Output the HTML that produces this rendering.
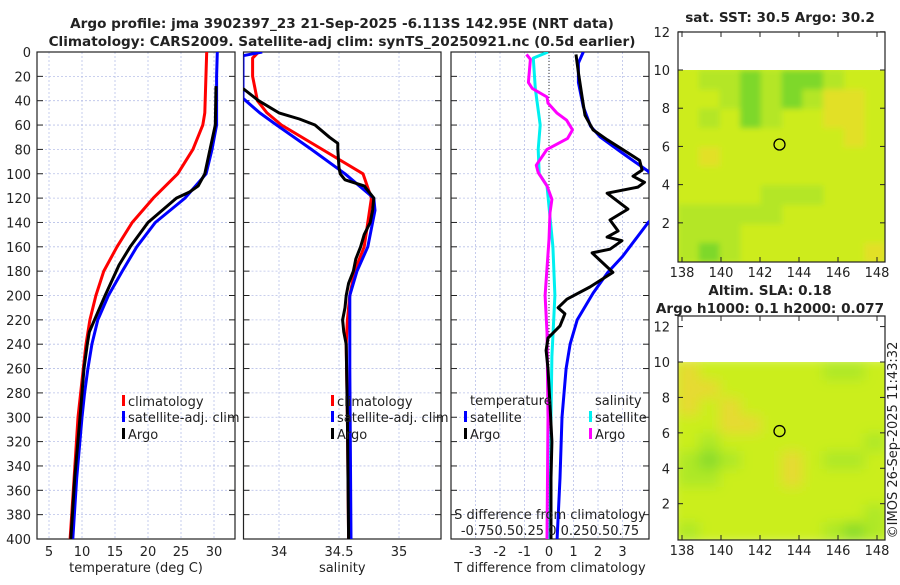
<!DOCTYPE html>
<html><head><meta charset="utf-8">
<style>
body{margin:0;background:#fff;}
svg text{font-family:"DejaVu Sans","Liberation Sans",sans-serif;fill:#222;}
</style></head>
<body>
<svg id="chart" width="900" height="580" xmlns="http://www.w3.org/2000/svg">
<g id="titles">
<text x="342" y="28" text-anchor="middle" font-size="13.6" font-weight="bold">Argo profile: jma 3902397_23 21-Sep-2025 -6.113S 142.95E (NRT data)</text>
<text x="342" y="46" text-anchor="middle" font-size="13.6" font-weight="bold">Climatology: CARS2009. Satellite-adj clim: synTS_20250921.nc (0.5d earlier)</text>
<text x="780" y="22" text-anchor="middle" font-size="13.6" font-weight="bold">sat. SST: 30.5 Argo: 30.2</text>
<text x="770" y="295" text-anchor="middle" font-size="13.6" font-weight="bold">Altim. SLA: 0.18</text>
<text x="770" y="313" text-anchor="middle" font-size="13.6" font-weight="bold">Argo h1000: 0.1 h2000: 0.077</text>
<text transform="translate(897,440) rotate(-90)" text-anchor="middle" font-size="13">©IMOS 26-Sep-2025 11:43:32</text>
</g>
</svg>
<script>
// ---- data ----
const depthTicks=[0,20,40,60,80,100,120,140,160,180,200,220,240,260,280,300,320,340,360,380,400];
const tTicks=[5,10,15,20,25,30];
const sTicks=[34,34.5,35];
const dTicks=[-3,-2,-1,0,1,2,3];
const tClimD=[0,50,60,80,100,120,140,160,180,200,220,240,260,300,350,400];
const tClimV=[28.9,28.6,28.3,26.8,24.5,20.8,17.6,15.3,13.3,12.1,11.2,10.6,10.2,9.4,8.8,8.2];
const tSatD=[0,20,60,80,100,120,140,160,180,200,220,240,260,280,300,350,400];
const tSatV=[30.5,30.4,30.4,29.7,28.8,25.6,21.1,18.3,16.1,14.0,12.4,11.5,10.9,10.4,10.0,9.2,8.6];
const tArgoD=[28,60,80,100,110,115,120,140,160,175,180,200,220,230,240,260,300,350,400];
const tArgoV=[30.3,30.2,29.4,28.6,27.6,26.3,24.3,20.0,17.3,15.6,15.2,13.5,11.9,11.1,10.8,10.3,9.7,8.9,8.3];
const sClimD=[0,5,20,40,50,60,80,100,120,140,160,180,200,220,240,300,400];
const sClimV=[33.83,33.78,33.78,33.82,33.9,34.02,34.36,34.70,34.77,34.74,34.71,34.63,34.59,34.57,34.56,34.57,34.58];
const sSatD=[0,3,38,50,60,80,100,120,130,140,160,180,200,220,260,400];
const sSatV=[33.86,33.70,33.70,33.84,33.98,34.27,34.55,34.79,34.80,34.78,34.74,34.65,34.59,34.59,34.59,34.60];
const sArgoD=[30,40,50,55,60,70,75,80,95,100,105,110,120,130,140,150,160,170,180,190,200,210,220,230,240,300,400];
const sArgoV=[33.70,33.83,34.0,34.17,34.30,34.42,34.49,34.49,34.50,34.51,34.55,34.71,34.79,34.78,34.76,34.71,34.68,34.64,34.62,34.58,34.56,34.55,34.53,34.54,34.56,34.57,34.58];
const dtSatD=[0,9,25,45,61,70,83,98,110,130,140,168,181,198,220,240,260,300,350,400];
const dtSatV=[1.4,1.2,1.2,1.4,1.7,2.1,3.0,4.05,4.6,4.6,4.05,3.0,2.4,1.8,1.15,0.86,0.7,0.53,0.45,0.33];
const dtArgoD=[2,17,37,52,64,72,80,89,97,102,107,111,116,129,138,147,152,155,162,165,181,193,203,210,215,225,235,245,260,290,320,350,400];
const dtArgoV=[1.1,1.2,1.35,1.47,1.8,2.37,3.0,3.7,3.8,3.43,3.9,3.63,2.37,3.22,2.49,2.82,2.37,2.98,2.49,1.76,2.61,1.67,0.73,0.37,0.65,0.45,-0.04,-0.12,-0.04,0.04,0.12,0.08,0.08];
const dsSatD=[0,5,30,60,80,100,110,160,200,250,300,400];
const dsSatV=[-0.01,-0.16,-0.14,-0.09,-0.11,-0.10,-0.02,0.04,0.06,0.03,0.02,0.01];
const dsArgoD=[2,6,25,30,37,42,50,56,64,71,80,93,99,110,121,132,154,200,230,300,400];
const dsArgoV=[-0.23,-0.19,-0.21,-0.17,-0.02,-0.01,0.08,0.18,0.24,0.19,-0.02,-0.13,-0.11,-0.02,0.03,0.01,0,-0.04,-0.02,-0.01,-0.02];
const lonTicks=[138,140,142,144,146,148];
const latTicks=[2,4,6,8,10,12];
const sstGrid=["yggGgGGgyy","yygGgGgooy","ygyGgyyooy","yyyyyyyyoy","yoyyyyyyyy","yyyyyyyyyy","yyyygggyyy","gggggyyyyy","gggyyyyyyy","gGgyyyyyyo"];
const slaGrid=["oyyyyyyggy","ooyyyyyyyy","oyoyyyyyyy","yyooyyyyyy","ygyyyyyyyg","gGgyyoyggy","ggyyyoyyyy","yyyyyyyyyy","yyyyyyyyyg","gyyyyyygGg"];
const floatLon=[143.0], floatLat=[6.1];

// ---- helpers ----
const NS="http://www.w3.org/2000/svg";
const svg=document.getElementById('chart');
function mk(tag,attrs,parent){const e=document.createElementNS(NS,tag);for(const k in attrs)e.setAttribute(k,attrs[k]);(parent||svg).appendChild(e);return e;}
const TOP=52, PXM=1.2175;
const yD=d=>TOP+d*PXM;
const BOT=yD(400);
const panels=[
 {name:'temperature',x0:37,x1:235,fx:v=>49+(v-5)*6.6,ticks:tTicks,lab:'temperature (deg C)'},
 {name:'salinity',x0:243.5,x1:441,fx:v=>279+(v-34)*120,ticks:sTicks,lab:'salinity'},
 {name:'difference',x0:451,x1:649,fx:v=>549+v*24.5,ticks:dTicks,lab:'T difference from climatology'}
];
panels.forEach((p,pi)=>{
 const g=mk('g',{});
 
 
 const cid='clip'+pi;
 const cp=mk('clipPath',{id:cid},g);mk('rect',{x:p.x0,y:TOP,width:p.x1-p.x0,height:BOT-TOP},cp);
 depthTicks.forEach(d=>{
  const l=mk('line',{x1:p.x0,x2:p.x1,y1:yD(d),y2:yD(d),stroke:'#b8c0e8','stroke-width':0.8,'stroke-dasharray':'2,2'},g);
  
  
  mk('line',{x1:p.x0,x2:p.x0+6,y1:yD(d),y2:yD(d),stroke:'#222'},g);
  mk('line',{x1:p.x1-6,x2:p.x1,y1:yD(d),y2:yD(d),stroke:'#222'},g);
  if(pi===0){const t=mk('text',{x:31,y:yD(d)+5,'text-anchor':'end','font-size':13},g);t.textContent=d;
   
   }
 });
 p.ticks.forEach(v=>{
  const x=p.fx(v);
  const l=mk('line',{x1:x,x2:x,y1:TOP,y2:BOT,stroke:'#b8c0e8','stroke-width':0.8,'stroke-dasharray':'2,2'},g);
  
  
  const t=mk('text',{x:x,y:556,'text-anchor':'middle','font-size':13},g);t.textContent=v;
  
  
 });
 mk('rect',{x:p.x0,y:TOP,width:p.x1-p.x0,height:BOT-TOP,fill:'none',stroke:'#222','stroke-width':1.2},g);
 const at=mk('text',{x:(p.x0+p.x1)/2,y:572,'text-anchor':'middle','font-size':13},g);at.textContent=p.lab;
 
 
 p.g=g;p.clip=cid;
});
function line(pi,D,V,color,fx,name){
 const p=panels[pi];
 const pts=D.map((d,i)=>fx(V[i]).toFixed(1)+','+yD(d).toFixed(1)).join(' ');
 const pl=mk('polyline',{points:pts,fill:'none',stroke:color,'stroke-width':3,'stroke-linejoin':'round','clip-path':'url(#'+p.clip+')'},p.g);
 
 
}
const P=panels;
line(0,tClimD,tClimV,'#ff0000',P[0].fx,'temp-climatology-line');
line(0,tSatD,tSatV,'#0000ff',P[0].fx,'temp-satellite-line');
line(0,tArgoD,tArgoV,'#000000',P[0].fx,'temp-argo-line');
line(1,sClimD,sClimV,'#ff0000',P[1].fx,'sal-climatology-line');
line(1,sSatD,sSatV,'#0000ff',P[1].fx,'sal-satellite-line');
line(1,sArgoD,sArgoV,'#000000',P[1].fx,'sal-argo-line');
const zl=mk('line',{x1:549,x2:549,y1:TOP,y2:BOT,stroke:'#333','stroke-dasharray':'1,2'},P[2].g);


const fxS=v=>549+v*98;
line(2,dsSatD,dsSatV,'#00f0f0',fxS,'sdiff-satellite-line');
line(2,dsArgoD,dsArgoV,'#ff00ff',fxS,'sdiff-argo-line');
line(2,dtSatD,dtSatV,'#0000ff',P[2].fx,'tdiff-satellite-line');
line(2,dtArgoD,dtArgoV,'#000000',P[2].fx,'tdiff-argo-line');

function legend(g,x,y,color,label,name){
 const r=mk('rect',{x:x,y:y-11,width:3,height:11,fill:color},g);
 
 
 const t=mk('text',{x:x+6,y:y,'font-size':13},g);t.textContent=label;
 
 
}
legend(svg,122,406,'#ff0000','climatology','legend-entry-climatology');
legend(svg,122,422,'#0000ff','satellite-adj. clim','legend-entry-satellite');
legend(svg,122,439,'#000000','Argo','legend-entry-argo');
legend(svg,331,406,'#ff0000','climatology','legend-entry-climatology-2');
legend(svg,331,422,'#0000ff','satellite-adj. clim','legend-entry-satellite-2');
legend(svg,331,439,'#000000','Argo','legend-entry-argo-2');
const lt=mk('text',{x:470,y:405,'font-size':13});lt.textContent='temperature';


const ls=mk('text',{x:595,y:405,'font-size':13});ls.textContent='salinity';


legend(svg,464,422,'#0000ff','satellite','legend-entry-tdiff-satellite');
legend(svg,464,439,'#000000','Argo','legend-entry-tdiff-argo');
legend(svg,589,422,'#00f0f0','satellite','legend-entry-sdiff-satellite');
legend(svg,589,439,'#ff00ff','Argo','legend-entry-sdiff-argo');
const st=mk('text',{x:550,y:519,'text-anchor':'middle','font-size':13});st.textContent='S difference from climatology';


const sl=mk('text',{x:550,y:535,'text-anchor':'middle','font-size':13});sl.textContent='-0.750.50.25 0 0.250.50.75';



// ---- maps ----
const COL={y:'#cdec1e',g:'#b4e626',G:'#7ed82a',o:'#e2e028'};
const SLA={y:'#cbee1e',g:'#aee826',G:'#8adc2a',o:'#e6da30'};
function map(top,bottom,lat10y,grid,cols,name,blur){
 const g=mk('g',{});
 
 
 const fx=lon=>682+(lon-138)*19.5;
 const fy=lat=>lat10y+(10-lat)*((bottom-lat10y)/10.05);
 const cid='c'+name;const cp=mk('clipPath',{id:cid},g);mk('rect',{x:678,y:lat10y,width:207,height:bottom-lat10y},cp);
 const inner=mk('g',{'clip-path':'url(#'+cid+')'},g);
 const ig=mk('g',{filter:blur?'url(#bl)':'url(#bl2)'},inner);
 mk('rect',{x:670,y:lat10y-5,width:225,height:bottom-lat10y+10,fill:cols.y},ig);
 const cw=207/grid[0].length, ch=(bottom-lat10y)/grid.length;
 grid.forEach((row,r)=>[...row].forEach((c,ci)=>{
  if(c==='y')return;
  const rc=mk('rect',{x:678+ci*cw,y:lat10y+r*ch,width:cw+0.5,height:ch+0.5,fill:cols[c]},ig);
  
  
 }));
 floatLon.forEach((lo,i)=>{const c=mk('circle',{cx:fx(lo),cy:fy(floatLat[i]),r:5.5,fill:'none',stroke:'#000','stroke-width':1.3},g);
  
  });
 mk('rect',{x:678,y:top,width:207,height:bottom-top,fill:'none',stroke:'#222','stroke-width':1.2},g);
 lonTicks.forEach(v=>{const x=fx(v);mk('line',{x1:x,x2:x,y1:bottom,y2:bottom-5,stroke:'#222'},g);mk('line',{x1:x,x2:x,y1:top,y2:top+5,stroke:'#222'},g);
  const t=mk('text',{x:x,y:bottom+15,'text-anchor':'middle','font-size':13},g);t.textContent=v;
  
  });
 latTicks.forEach(v=>{const y=fy(v);mk('line',{x1:678,x2:683,y1:y,y2:y,stroke:'#222'},g);mk('line',{x1:880,x2:885,y1:y,y2:y,stroke:'#222'},g);
  const t=mk('text',{x:670,y:y+5,'text-anchor':'end','font-size':13},g);t.textContent=v;
  
  });
}
const defs=mk('defs',{});
const f=mk('filter',{id:'bl',x:'-10%',y:'-10%',width:'120%',height:'120%'},defs);mk('feGaussianBlur',{stdDeviation:6},f);
const f2=mk('filter',{id:'bl2',x:'-10%',y:'-10%',width:'120%',height:'120%'},defs);mk('feGaussianBlur',{stdDeviation:3},f2);
map(32,262,70,sstGrid,COL,'sst-map',false);
map(316,540,362,slaGrid,SLA,'sla-map',true);
</script>
</body></html>
